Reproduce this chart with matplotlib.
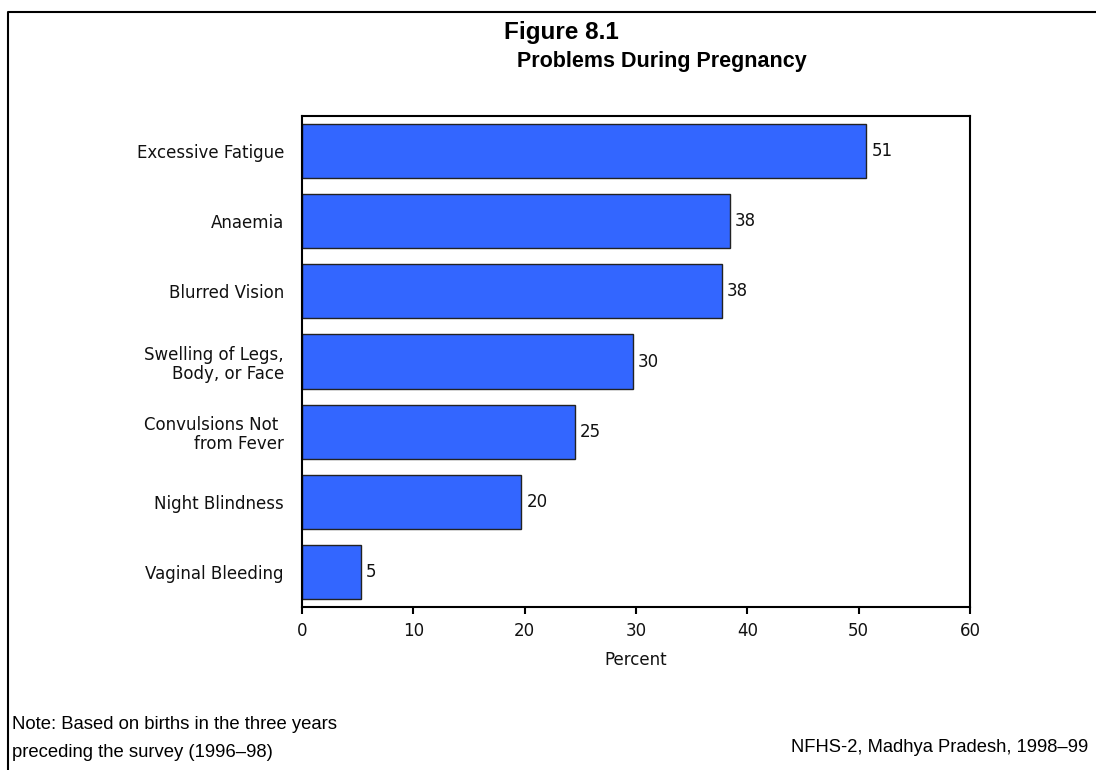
import matplotlib
matplotlib.use("Agg")
import matplotlib.pyplot as plt
from matplotlib.lines import Line2D

categories = ["Excessive Fatigue", "Anaemia", "Blurred Vision",
              "Swelling of Legs,\nBody, or Face", "Convulsions Not \nfrom Fever",
              "Night Blindness", "Vaginal Bleeding"]
values = [50.7, 38.4, 37.7, 29.7, 24.5, 19.7, 5.3]
labels = ["51", "38", "38", "30", "25", "20", "5"]
xticks = [0, 10, 20, 30, 40, 50, 60]

plt.rcParams['font.family'] = ['DejaVu Sans']

W, H = 1096, 770
fig = plt.figure(figsize=(W / 100, H / 100), dpi=100)
ax = fig.add_axes([302 / W, 1 - 607 / H, (970 - 302) / W, (607 - 116) / H])

y = list(range(len(categories)))
ax.barh(y, values, height=0.77, color="#3366FF", edgecolor="#222222", linewidth=1)
for yi, v, lab in zip(y, values, labels):
    ax.text(v + 0.45, yi, lab, va="center", ha="left", fontsize=12, color="#111111")

ax.set_ylim(len(categories) - 0.5, -0.5)
ax.set_xlim(0, 60)
ax.set_xticks(xticks)
ax.set_yticks(y)
ax.set_yticklabels(categories, fontsize=12, color="#111111", linespacing=1.1)
ax.tick_params(axis="y", length=0, pad=13)
ax.tick_params(axis="x", direction="out", length=5, width=1.5, labelsize=12, pad=6,
               labelcolor="#111111")
for s in ax.spines.values():
    s.set_linewidth(1.5)
ax.set_xlabel("Percent", fontsize=12, labelpad=8, color="#111111")

fig.text(561 / W, 1 - 33 / H, "Figure 8.1", ha="center", va="center",
         fontsize=17.5, fontweight="bold", family="Liberation Sans")
fig.text(662 / W, 1 - 61 / H, "Problems During Pregnancy", ha="center", va="center",
         fontsize=15.5, fontweight="bold", family="Liberation Sans")

fig.text(12 / W, 1 - 729 / H, "Note: Based on births in the three years",
         ha="left", va="baseline", fontsize=13.3, family="Liberation Sans")
fig.text(12 / W, 1 - 757 / H, "preceding the survey (1996\u201398)",
         ha="left", va="baseline", fontsize=13.3, family="Liberation Sans")
fig.text(1088 / W, 1 - 752 / H, "NFHS-2, Madhya Pradesh, 1998\u201399", ha="right", va="baseline",
         fontsize=13.2, family="Liberation Sans")

# partial outer frame (left and top edges)
fig.add_artist(Line2D([8 / W, 8 / W, 1.0], [0.0, 1 - 12 / H, 1 - 12 / H],
                      transform=fig.transFigure, color="black", linewidth=1.5))

fig.savefig("out.png", dpi=100)
